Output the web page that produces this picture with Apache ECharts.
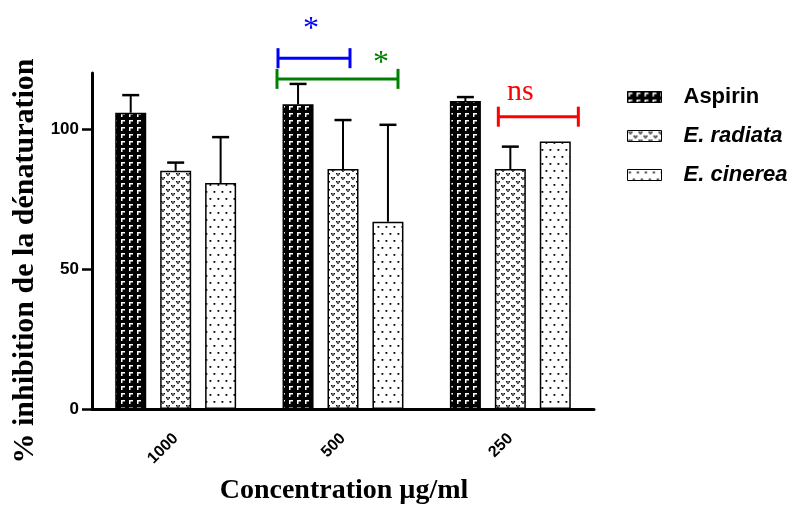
<!DOCTYPE html>
<html>
<head>
    <meta charset="utf-8">
    <title>Inhibition de la dénaturation</title>
</head>
<body style="margin:0">
    <div id="main" style="width: 799px; height: 506px;"></div>
    <script src="https://cdn.jsdelivr.net/npm/echarts@6/dist/echarts.min.js"></script>
    <script type="text/javascript">
        // data (mean, SEM)
        var categories = ['1000', '500', '250'];
        var seriesNames = ['Aspirin', 'E. radiata', 'E. cinerea'];
        var aspirin = [105.8, 108.8, 110.0];
        var aspirinSem = [6.3, 7.3, 1.4];
        var radiata = [85.1, 85.7, 85.7];
        var radiataSem = [2.9, 17.5, 8.0];
        var cinerea = [80.7, 66.9, 95.5];
        var cinereaSem = [16.4, 34.6, 0];
        var yTicks = [0, 50, 100];

        var chartDom = document.getElementById('main');
        var myChart = echarts.init(chartDom);
        var option;

        var sans = '"Liberation Sans", Arial, sans-serif';
        var serif = '"Liberation Serif", "Times New Roman", serif';
        var barWidth = 31;
        var barGap = 0.45;

        // small tiled canvas patterns like the GraphPad fills
        function makePattern(w, h, bg, fg, rects) {
            var c = document.createElement('canvas');
            c.width = w;
            c.height = h;
            var ctx = c.getContext('2d');
            ctx.fillStyle = bg;
            ctx.fillRect(0, 0, w, h);
            ctx.fillStyle = fg;
            rects.forEach(function (r) {
                ctx.fillRect(r[0], r[1], r[2], r[3]);
            });
            return { image: c, repeat: 'repeat' };
        }

        var fills = [
            makePattern(8, 7, '#000', '#fff', [[1, 1, 4, 1.5], [1, 1, 1.5, 4]]),
            makePattern(10, 8, '#fff', '#000', [
                [1, 1, 1.5, 1.5], [3.5, 1, 1.5, 1.5], [2.2, 2.4, 1.5, 1.5],
                [6, 5, 1.5, 1.5], [8.5, 5, 1.5, 1.5], [7.2, 6.4, 1.5, 1.5]
            ]),
            makePattern(8, 14, '#fff', '#000', [[1.5, 2, 1.8, 1.8], [5.5, 9, 1.8, 1.8]])
        ];

        var means = [aspirin, radiata, cinerea];
        var sems = [aspirinSem, radiataSem, cinereaSem];

        function errorRender(offset) {
            return function (params, api) {
                var lo = api.value(1);
                var hi = api.value(2);
                if (hi <= lo) return;
                var base = api.coord([api.value(0), lo]);
                var top = api.coord([api.value(0), hi]);
                var x = base[0] + offset;
                return {
                    type: 'group',
                    children: [
                        { type: 'line', shape: { x1: x, y1: base[1], x2: x, y2: top[1] }, style: { stroke: '#000', lineWidth: 2 } },
                        { type: 'line', shape: { x1: x - 8.5, y1: top[1], x2: x + 8.5, y2: top[1] }, style: { stroke: '#000', lineWidth: 2.5 } }
                    ]
                };
            };
        }

        var series = [];
        seriesNames.forEach(function (name, i) {
            series.push({
                name: name,
                type: 'bar',
                barWidth: barWidth,
                barGap: (barGap * 100) + '%',
                data: means[i],
                itemStyle: { color: fills[i], borderColor: '#000', borderWidth: 1.5 },
                emphasis: { disabled: true }
            });
        });
        seriesNames.forEach(function (name, i) {
            series.push({
                name: name + ' sem',
                type: 'custom',
                z: 5,
                renderItem: errorRender((i - 1) * barWidth * (1 + barGap)),
                data: means[i].map(function (v, k) { return [k, v, v + sems[i][k]]; })
            });
        });

        option = {
            animation: false,
            grid: { left: 92, right: 205, top: 73, bottom: 97 },
            legend: {
                data: seriesNames,
                orient: 'vertical',
                left: 622,
                top: 81,
                itemWidth: 34,
                itemHeight: 11,
                itemGap: 17,
                icon: 'rect',
                itemStyle: { borderColor: '#000', borderWidth: 1 },
                formatter: function (name) {
                    return name === 'Aspirin' ? '{n|' + name + '}' : '{i|' + name + '}';
                },
                textStyle: {
                    rich: {
                        n: { fontFamily: sans, fontWeight: 'bold', fontSize: 22, color: '#000', padding: [0, 0, 0, 17] },
                        i: { fontFamily: sans, fontWeight: 'bold', fontStyle: 'italic', fontSize: 22, color: '#000', padding: [0, 0, 0, 17] }
                    }
                }
            },
            xAxis: {
                type: 'category',
                data: categories,
                axisLine: { lineStyle: { color: '#000', width: 3 } },
                axisTick: { alignWithLabel: true, length: 10, lineStyle: { color: '#000', width: 2.5 } },
                axisLabel: { rotate: 45, margin: 27, color: '#000', fontFamily: sans, fontWeight: 'bold', fontSize: 16 }
            },
            yAxis: {
                type: 'value',
                min: 0,
                max: 120,
                interval: 50,
                splitLine: { show: false },
                axisLine: { show: true, lineStyle: { color: '#000', width: 3 } },
                axisTick: { show: true, length: 10, customValues: yTicks, lineStyle: { color: '#000', width: 2.5 } },
                axisLabel: { customValues: yTicks, margin: 13, color: '#000', fontFamily: sans, fontWeight: 'bold', fontSize: 17 }
            },
            series: series
        };

        myChart.setOption(option);

        // significance brackets: category, height in data units, pixel offsets from the category centre
        var brackets = [
            { cat: 1, value: 125.3, dx1: -65, dx2: 7, color: '#0000ff', text: '*', tdx: -32, tdy: -29, font: 32 },
            { cat: 1, value: 117.9, dx1: -66, dx2: 55, color: '#008000', text: '*', tdx: 38, tdy: -15, font: 32 },
            { cat: 2, value: 104.4, dx1: -12, dx2: 68, color: '#ff0000', text: 'ns', tdx: 10, tdy: -25, font: 30 }
        ];

        var graphics = [];
        brackets.forEach(function (b) {
            var p = myChart.convertToPixel({ xAxisIndex: 0, yAxisIndex: 0 }, [categories[b.cat], b.value]);
            var x1 = p[0] + b.dx1, x2 = p[0] + b.dx2, y = p[1];
            var st = { stroke: b.color, lineWidth: 3 };
            graphics.push({ type: 'line', shape: { x1: x1, y1: y, x2: x2, y2: y }, style: st });
            graphics.push({ type: 'line', shape: { x1: x1, y1: y - 10, x2: x1, y2: y + 10 }, style: st });
            graphics.push({ type: 'line', shape: { x1: x2, y1: y - 10, x2: x2, y2: y + 10 }, style: st });
            graphics.push({
                type: 'text',
                x: p[0] + b.tdx,
                y: y + b.tdy,
                style: {
                    text: b.text,
                    fill: b.color,
                    font: b.font + 'px ' + serif,
                    textAlign: 'center',
                    textVerticalAlign: 'middle'
                }
            });
        });

        // axis titles
        graphics.push({
            type: 'text',
            x: 344,
            y: 491,
            style: {
                text: 'Concentration µg/ml',
                fill: '#000',
                font: 'bold 28px ' + serif,
                textAlign: 'center',
                textVerticalAlign: 'middle'
            }
        });
        graphics.push({
            type: 'text',
            x: 25,
            y: 261,
            rotation: Math.PI / 2,
            style: {
                text: '% inhibition de la dénaturation',
                fill: '#000',
                font: 'bold 30px ' + serif,
                textAlign: 'center',
                textVerticalAlign: 'middle'
            }
        });

        myChart.setOption({ graphic: graphics });
    </script>
</body>
</html>
